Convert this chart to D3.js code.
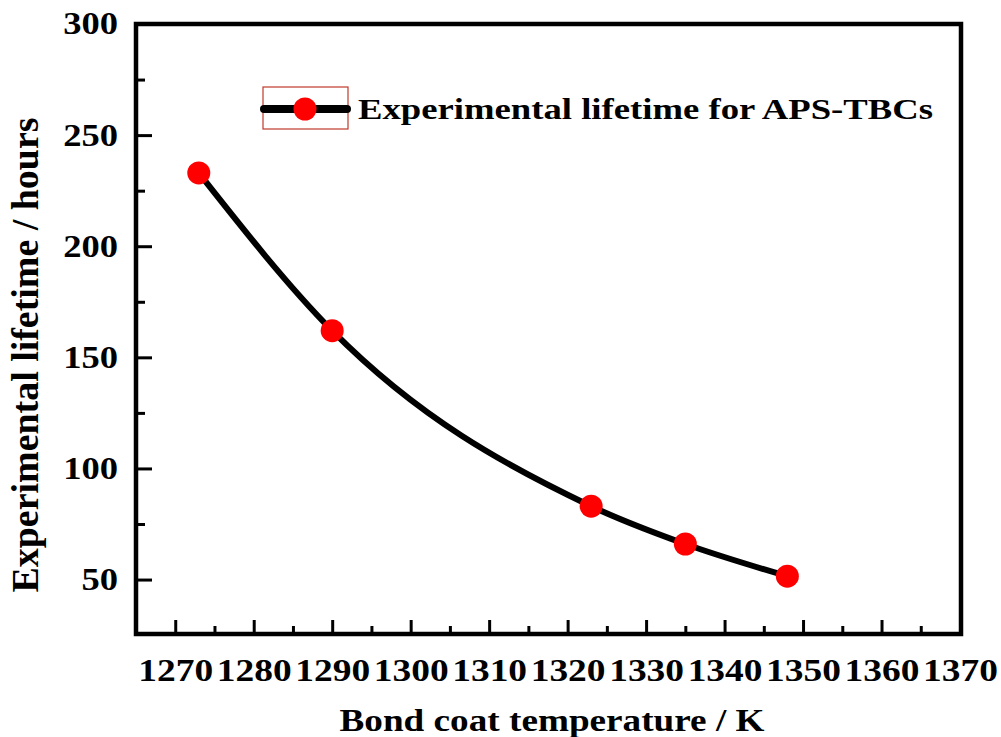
<!DOCTYPE html>
<html>
<head>
<meta charset="utf-8">
<script src="https://cdn.jsdelivr.net/npm/d3@7"></script>
<style>
  body { margin: 0; background: #fff; }
  text { font-family: "Liberation Serif", "Times New Roman", serif; font-weight: bold; fill: #000; }
</style>
</head>
<body>
<svg id="chart" width="1001" height="737"></svg>
<script>
// data
const temperatures = [1273, 1290, 1323, 1335, 1348];
const lifetimes = [233, 162, 83, 66, 51.5];
const xMajorTicks = [1270, 1280, 1290, 1300, 1310, 1320, 1330, 1340, 1350, 1360, 1370];
const xMinorTicks = [1275, 1285, 1295, 1305, 1315, 1325, 1335, 1345, 1355, 1365];
const yMajorTicks = [50, 100, 150, 200, 250, 300];
const yMinorTicks = [75, 125, 175, 225, 275];
const seriesName = 'Experimental lifetime for APS-TBCs';
const xTitle = 'Bond coat temperature / K';
const yTitle = 'Experimental lifetime / hours';

const box = { left: 136, top: 24, right: 961, bottom: 634 };
const svg = d3.select('#chart');

svg.append('rect').attr('width', 1001).attr('height', 737).attr('fill', '#fff');

const x = d3.scaleLinear().domain([1265, 1370]).range([box.left, 960]);
const y = d3.scaleLinear().domain([25.5, 300]).range([box.bottom, box.top]);

// stretch text horizontally (the reference glyphs are wider than Times)
function stretch(sel, k) {
    sel.each(function () {
        const w = this.getComputedTextLength();
        d3.select(this).attr('textLength', w * k).attr('lengthAdjust', 'spacingAndGlyphs');
    });
}

// minor ticks
svg.append('g')
    .attr('transform', `translate(0,${box.bottom})`)
    .call(d3.axisBottom(x).tickValues(xMinorTicks).tickSize(-8).tickFormat(''))
    .call(g => g.select('.domain').remove())
    .call(g => g.selectAll('.tick line').attr('stroke', '#000').attr('stroke-width', 3));

svg.append('g')
    .attr('transform', `translate(${box.left},0)`)
    .call(d3.axisLeft(y).tickValues(yMinorTicks).tickSize(-9).tickFormat(''))
    .call(g => g.select('.domain').remove())
    .call(g => g.selectAll('.tick line').attr('stroke', '#000').attr('stroke-width', 3));

// major ticks + labels
const xAxis = svg.append('g')
    .attr('transform', `translate(0,${box.bottom})`)
    .attr('font-family', null)
    .call(d3.axisBottom(x).tickValues(xMajorTicks).tickSize(-14).tickPadding(24).tickFormat(d3.format('d')));
xAxis.attr('font-family', null);
xAxis.select('.domain').remove();
xAxis.selectAll('.tick line').attr('stroke', '#000').attr('stroke-width', 3);
xAxis.selectAll('.tick text').style('font-size', '32px').attr('fill', '#000');
stretch(xAxis.selectAll('.tick text'), 1.17);

const yAxis = svg.append('g')
    .attr('transform', `translate(${box.left},0)`)
    .call(d3.axisLeft(y).tickValues(yMajorTicks).tickSize(-16).tickPadding(18));
yAxis.attr('font-family', null);
yAxis.select('.domain').remove();
yAxis.selectAll('.tick line').attr('stroke', '#000').attr('stroke-width', 3);
yAxis.selectAll('.tick text').style('font-size', '31px').attr('fill', '#000');
stretch(yAxis.selectAll('.tick text'), 1.18);

// frame
svg.append('rect')
    .attr('x', box.left).attr('y', box.top)
    .attr('width', box.right - box.left).attr('height', box.bottom - box.top)
    .attr('fill', 'none').attr('stroke', '#000').attr('stroke-width', 4.5);

// curve
const points = temperatures.map((t, i) => ({ t, v: lifetimes[i] }));
const line = d3.line().x(d => x(d.t)).y(d => y(d.v)).curve(d3.curveMonotoneX);

svg.append('path')
    .datum(points)
    .attr('d', line)
    .attr('fill', 'none')
    .attr('stroke', '#000')
    .attr('stroke-width', 6);

svg.selectAll('.dot')
    .data(points)
    .enter()
    .append('circle')
    .attr('class', 'dot')
    .attr('cx', d => x(d.t))
    .attr('cy', d => y(d.v))
    .attr('r', 11.5)
    .attr('fill', '#f00');

// legend
const legend = svg.append('g');
legend.append('rect')
    .attr('x', 263).attr('y', 87).attr('width', 85).attr('height', 42)
    .attr('fill', 'none').attr('stroke', '#c0392b').attr('stroke-width', 1.2);
legend.append('line')
    .attr('x1', 264).attr('x2', 347).attr('y1', 109).attr('y2', 109)
    .attr('stroke', '#000').attr('stroke-width', 8).attr('stroke-linecap', 'round');
legend.append('circle').attr('cx', 305).attr('cy', 109).attr('r', 11.5).attr('fill', '#f00');
legend.append('text')
    .attr('x', 358).attr('y', 119)
    .style('font-size', '30px')
    .text(seriesName)
    .attr('textLength', 575).attr('lengthAdjust', 'spacingAndGlyphs');

// axis titles
svg.append('text')
    .attr('x', 552).attr('y', 731)
    .attr('text-anchor', 'middle')
    .style('font-size', '32px')
    .text(xTitle)
    .attr('textLength', 425).attr('lengthAdjust', 'spacingAndGlyphs');

svg.append('text')
    .attr('transform', 'translate(38,355) rotate(-90)')
    .attr('text-anchor', 'middle')
    .style('font-size', '37px')
    .text(yTitle)
    .attr('textLength', 475).attr('lengthAdjust', 'spacingAndGlyphs');
</script>
</body>
</html>
